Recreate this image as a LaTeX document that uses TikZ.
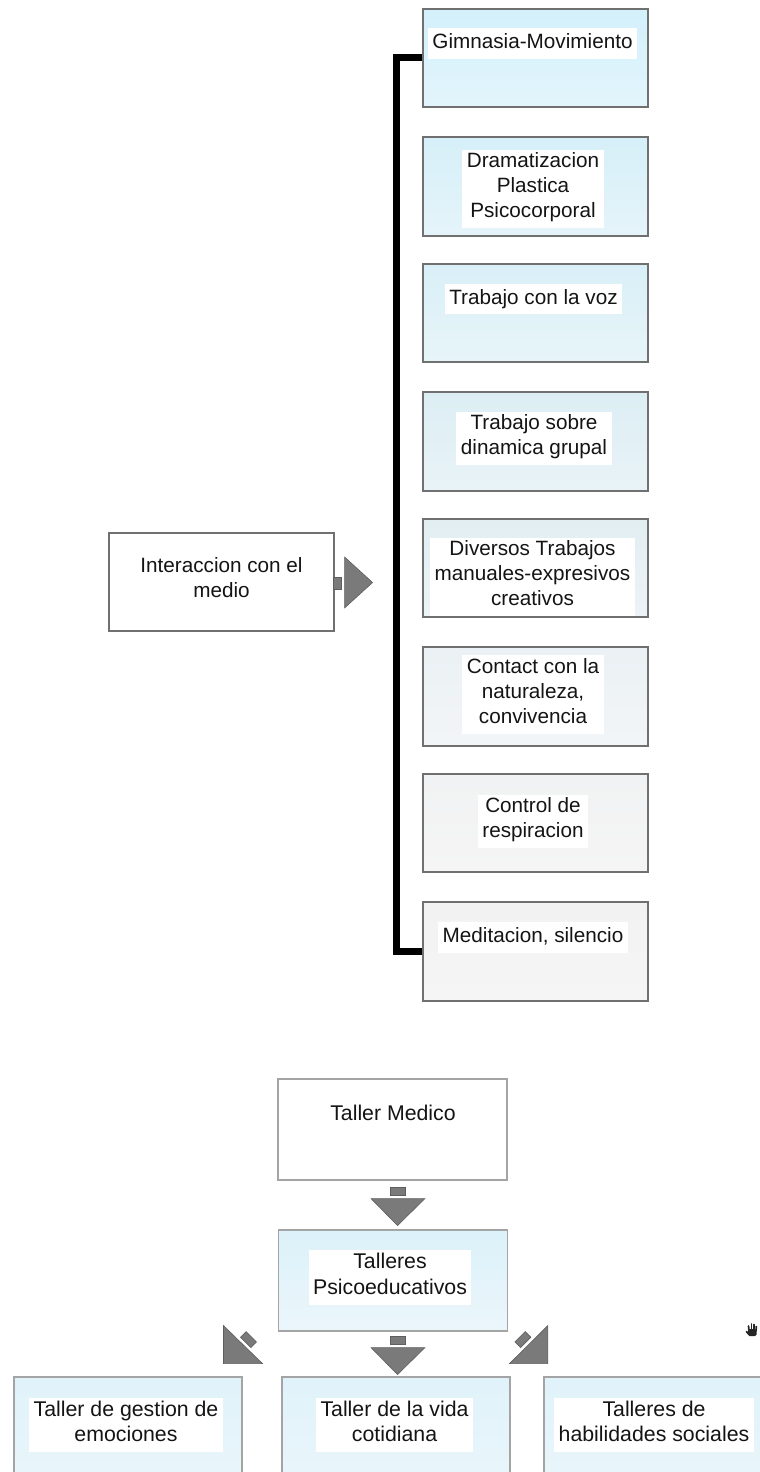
\documentclass[tikz,border=0pt]{standalone}
\usepackage{fontspec}
\setmainfont{Liberation Sans}
\usetikzlibrary{calc}

\definecolor{ink}{HTML}{141414}
\definecolor{edgedark}{HTML}{707070}
\definecolor{edgelight}{HTML}{A4A4A4}
\definecolor{tipfill}{HTML}{7A7A7A}
\definecolor{tipedge}{HTML}{5E5E5E}
% column fills, top / bottom of each box
\definecolor{fa1}{HTML}{D3F0FB}\definecolor{fb1}{HTML}{E3F5FC}
\definecolor{fa2}{HTML}{D6EFF8}\definecolor{fb2}{HTML}{E5F4FA}
\definecolor{fa3}{HTML}{D9EFF7}\definecolor{fb3}{HTML}{E7F5F9}
\definecolor{fa4}{HTML}{DCEEF4}\definecolor{fb4}{HTML}{E9F3F7}
\definecolor{fa5}{HTML}{E2EEF2}\definecolor{fb5}{HTML}{EDF3F6}
\definecolor{fa6}{HTML}{EBF1F4}\definecolor{fb6}{HTML}{F2F5F7}
\definecolor{fa7}{HTML}{F1F2F3}\definecolor{fb7}{HTML}{F5F5F5}
\definecolor{fa8}{HTML}{F2F2F2}\definecolor{fb8}{HTML}{F5F5F5}
\definecolor{pa}{HTML}{DCF1F9}\definecolor{pb}{HTML}{EBF6FB}
\definecolor{qa}{HTML}{E0F2FA}\definecolor{qb}{HTML}{EAF6FB}

\begin{document}
\begin{tikzpicture}[x=1pt,y=-1pt,
  colbox/.style={draw=edgedark, line width=1.1pt, minimum width=225pt,
    minimum height=98pt, inner sep=0pt},
  lowbox/.style={draw=edgelight, line width=1.1pt, minimum width=229pt,
    minimum height=101pt, inner sep=0pt},
  shade2/.style 2 args={top color=#1, bottom color=#2},
  boxtext/.style={fill=white, inner xsep=4.5pt, inner ysep=2.8pt, align=center,
    text=ink, font=\fontsize{20.7}{25.2}\selectfont,
    execute at begin node=\strut, execute at end node=\strut},
  lowtext/.style={boxtext, font=\fontsize{21.3}{25.5}\selectfont},
  tipshape/.style={fill=tipfill, draw=tipedge, line width=0.6pt, line join=miter},
  pics/downtip/.style={code={
    \path[tipshape] (-7.5,7) rectangle (7.5,15);
    \path[tipshape] (-26.5,18) -- (27.5,18) -- (0,45) -- cycle;
  }}
]
\useasboundingbox (0,0) rectangle (760,1472);
\clip (0,0) rectangle (760,1472);

% right column of activities
\node[colbox, shade2={fa1}{fb1}] (g1) at (535.5,58)    {};
\node[colbox, shade2={fa2}{fb2}] (g2) at (535.5,186.5) {};
\node[colbox, shade2={fa3}{fb3}] (g3) at (535.5,313)   {};
\node[colbox, shade2={fa4}{fb4}] (g4) at (535.5,441.5) {};
\node[colbox, shade2={fa5}{fb5}] (g5) at (535.5,568)   {};
\node[colbox, shade2={fa6}{fb6}] (g6) at (535.5,696.5) {};
\node[colbox, shade2={fa7}{fb7}] (g7) at (535.5,823)   {};
\node[colbox, shade2={fa8}{fb8}] (g8) at (535.5,951.5) {};

\node[boxtext] (t1) at (532.5,43.5) {Gimnasia-Movimiento};
\node[boxtext] (t2) at (533,189)    {Dramatizacion\\Plastica\\Psicocorporal};
\node[boxtext] (t3) at (533.5,299)  {Trabajo con la voz};
\node[boxtext] (t4) at (534,438.5)  {Trabajo sobre\\dinamica grupal};
\node[boxtext] (t5) at (532.5,577)  {Diversos Trabajos\\manuales-expresivos\\creativos};
\node[boxtext] (t6) at (533,694.5)  {Contact con la\\naturaleza,\\convivencia};
\node[boxtext] (t7) at (533,821.5)  {Control de\\respiracion};
\node[boxtext] (t8) at (533,937.5)  {Meditacion, silencio};

% borders redrawn over the label backgrounds
\foreach \n in {g1,g2,g3,g4,g5,g6,g7,g8}
  \draw[edgedark, line width=1.1pt] (\n.south west) rectangle (\n.north east);

% bracket joining the column
\draw[line width=7pt, line join=miter] (g1.west) -- ++(-26,0) |- (g8.west);

% source box with its arrow
\node[colbox, fill=white] (im) at (221.5,582) {};
\node[boxtext, fill=none] (ti) at (221.5,581) {Interaccion con el\\medio};
\path[tipshape] ($(im.east)+(-1,-5)$) rectangle ($(im.east)+(7,7)$);
\path[tipshape] ($(im.east)+(10,-25)$) -- ($(im.east)+(10,26)$)
  -- ($(im.east)+(38,0.5)$) -- cycle;

% lower chart
\node[lowbox, fill=white] (tm) at (392.5,1129.5) {};
\node[lowtext, fill=none] (tmt) at (393,1115) {Taller Medico};

\node[lowbox, shade2={pa}{pb}] (tp) at (393,1280.5) {};
\node[lowtext] (tpt) at (390,1277.5) {Talleres\\Psicoeducativos};

\node[lowbox, shade2={qa}{qb}, minimum width=228pt, minimum height=110pt] (bl) at (128,1432) {};
\node[lowbox, shade2={qa}{qb}, minimum width=228pt, minimum height=110pt] (bm) at (396,1432) {};
\node[lowbox, shade2={qa}{qb}, minimum width=228pt, minimum height=110pt] (br) at (658,1432) {};
\node[lowtext] (blt) at (126,1425)   {Taller de gestion de\\emociones};
\node[lowtext] (bmt) at (394.5,1425) {Taller de la vida\\cotidiana};
\node[lowtext] (brt) at (654,1425)   {Talleres de\\habilidades sociales};

% flow marks between the lower boxes
\pic at ($(tm.south)+(5,0)$) {downtip};
\pic at ($(tp.south)+(4.5,-2)$) {downtip};

\path[tipshape] ($(tp.south west)+(-54.5,-6)$) -- ($(tp.south west)+(-54.5,32)$)
  -- ($(tp.south west)+(-15.5,32)$) -- cycle;
\path[tipshape, shift={($(tp.south west)+(-29.5,8)$)}, rotate=-45]
  (-7.3,-4) rectangle (7.3,4);

\path[tipshape] ($(tp.south east)+(39.8,-6)$) -- ($(tp.south east)+(39.8,32)$)
  -- ($(tp.south east)+(1.5,32)$) -- cycle;
\path[tipshape, shift={($(tp.south east)+(14.8,8)$)}, rotate=45]
  (-7.3,-4) rectangle (7.3,4);

% pointer hand
\coordinate (hand) at (752,1330);
\begin{scope}[shift={(hand)}, black!85, line cap=round]
  \fill[rounded corners=1.5pt] (-4,-1) rectangle (4.5,6);
  \draw[line width=1.7pt] (-3,0) -- (-3.5,-4);
  \draw[line width=1.7pt] (-0.6,0) -- (-0.6,-6);
  \draw[line width=1.7pt] (1.8,0) -- (1.8,-5.5);
  \draw[line width=1.7pt] (4,1) -- (4.3,-3.5);
  \draw[line width=1.7pt] (-3.5,4) -- (-5.5,1.5);
\end{scope}
\end{tikzpicture}
\end{document}
